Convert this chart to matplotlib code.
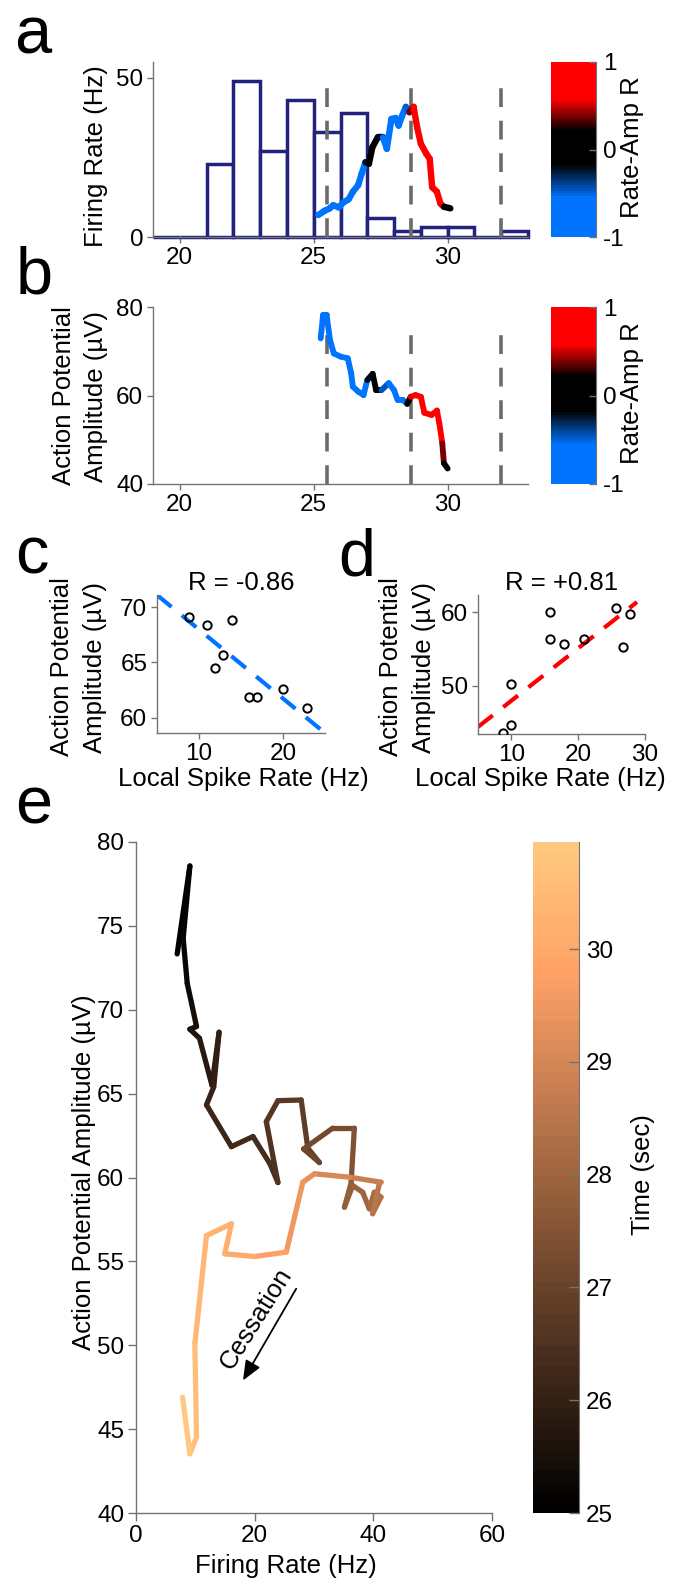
import numpy as np
import matplotlib
matplotlib.use('Agg')
import matplotlib.pyplot as plt
from matplotlib.collections import LineCollection
from matplotlib.colors import LinearSegmentedColormap, Normalize
from matplotlib.cm import ScalarMappable

plt.rcParams['font.family'] = ['Liberation Sans', 'DejaVu Sans']
plt.rcParams['axes.unicode_minus'] = False

# ---------------- data ----------------
# panel a: firing rate histogram (1 s bins) and local rate trace
bin_left = [19, 20, 21, 22, 23, 24, 25, 26, 27, 28, 29, 30, 31, 32]
bin_rate = [0, 0, 23, 49, 27, 43, 33, 39, 6, 2, 3, 3, 0, 2]
event_times = [25.5, 28.63, 32.0]

rate_t = [25.17, 25.40, 25.60, 25.73, 25.93, 26.13, 26.30, 26.46, 26.66, 26.79, 26.93,
          27.06, 27.19, 27.39, 27.59, 27.73, 27.90, 28.06, 28.17, 28.30, 28.44, 28.57,
          28.73, 28.86, 29.00, 29.20, 29.33, 29.42, 29.60, 29.73, 29.86, 30.10]
rate_hz = [6.9, 8.2, 9.0, 10.0, 9.3, 11.0, 11.8, 14.2, 16.3, 19.9, 23.5,
           23.0, 28.2, 31.3, 31.3, 27.7, 37.1, 37.4, 35.0, 38.1, 40.9, 39.2,
           40.9, 34.5, 29.3, 26.2, 24.6, 15.7, 14.2, 10.5, 9.5, 9.0]
rate_r = [-0.9, -0.9, -0.9, -0.9, -0.9, -0.9, -0.9, -0.9, -0.9, -0.9, -0.5,
          0.0, 0.0, 0.0, -0.4, -0.9, -0.9, -0.9, -0.9, -0.9, -0.9, -0.1,
          0.9, 0.9, 0.9, 0.9, 0.9, 0.9, 0.9, 0.9, 0.4, 0.0]

# panel b: action potential amplitude trace
amp_t = [25.26, 25.35, 25.48, 25.61, 25.75, 26.00, 26.27, 26.40, 26.46, 26.66, 26.86,
         27.00, 27.20, 27.33, 27.53, 27.80, 28.00, 28.13, 28.33, 28.49, 28.62,
         28.80, 29.00, 29.13, 29.40, 29.60, 29.69, 29.80, 29.86, 30.00]
amp_uv = [72.9, 78.2, 78.2, 72.5, 69.5, 68.8, 68.4, 65.0, 62.0, 60.9, 60.1,
          63.5, 64.9, 61.2, 61.2, 62.8, 61.2, 59.0, 59.0, 58.1, 59.7,
          60.1, 59.7, 56.1, 55.6, 56.6, 53.7, 49.2, 44.7, 43.5]
amp_r = [-0.9, -0.9, -0.9, -0.9, -0.9, -0.9, -0.9, -0.9, -0.9, -0.9, -0.9,
         -0.4, 0.0, 0.0, 0.0, -0.9, -0.9, -0.9, -0.9, -0.3, 0.2,
         0.9, 0.9, 0.9, 0.9, 0.9, 0.9, 0.5, 0.3, 0.0]

# panel c: negative correlation window
c_rate = [8.85, 10.9, 13.9, 11.9, 12.9, 15.9, 16.9, 19.96, 22.9]
c_amp = [69.15, 68.4, 68.85, 64.45, 65.7, 61.9, 61.9, 62.6, 60.9]
c_fit_x = [5, 25]
c_fit_y = [71.1, 58.6]

# panel d: positive correlation window
d_rate = [15.8, 15.8, 17.8, 20.8, 25.6, 27.7, 26.7, 9.9, 9.9, 8.8]
d_amp = [60.04, 56.35, 55.7, 56.35, 60.5, 59.7, 55.3, 50.2, 44.7, 43.7]
d_fit_x = [5, 28.8]
d_fit_y = [44.46, 61.35]

# panel e: rate vs amplitude trajectory, coloured by time
traj_rate = [6.94, 9.08, 7.95, 8.63, 9.36, 10.2, 9.08, 10.7, 12.8, 14.0, 13.1,
             11.88, 16.08, 19.72, 22.52, 23.92, 21.96, 23.92, 27.84, 28.96, 30.92,
             28.24, 33.15, 36.8, 36.25, 35.13, 36.52, 38.2, 39.33, 40.17, 41.29,
             39.88, 41.0, 41.29, 35.97, 30.08, 28.12, 25.32, 20.0, 14.96, 16.08,
             11.88, 9.92, 10.2, 9.08, 7.85]
traj_amp = [73.33, 78.57, 74.26, 71.58, 70.39, 69.0, 68.84, 68.3, 65.5, 68.66, 65.4,
            64.33, 61.84, 62.44, 60.85, 59.7, 63.33, 64.58, 64.62, 61.75, 60.89,
            61.7, 62.94, 62.94, 59.66, 58.23, 59.52, 59.12, 58.13, 59.12, 58.83,
            57.84, 59.62, 59.72, 60.02, 60.22, 59.72, 55.55, 55.29, 55.45, 57.24,
            56.54, 50.09, 44.52, 43.53, 46.9]
traj_t = [25.0, 25.1, 25.2, 25.3, 25.4, 25.5, 25.6, 25.7, 25.8, 25.9, 26.0,
          26.1, 26.2, 26.3, 26.4, 26.5, 26.6, 26.7, 26.8, 26.9, 27.0,
          27.1, 27.2, 27.4, 27.6, 27.8, 27.9, 28.0, 28.1, 28.2, 28.3,
          28.4, 28.5, 28.6, 28.9, 29.2, 29.4, 29.7, 29.9, 30.1, 30.2,
          30.35, 30.5, 30.7, 30.8, 30.95]

# ---------------- styling ----------------
W, H = 696, 1583
TICK_FS = 17.5
LAB_FS = 18.5
AX_COL = '0.45'
NAVY = '#23237e'
BLUE = '#0073ff'
RED = '#ff0000'

ramp = LinearSegmentedColormap.from_list(
    'ramp', [(0.0, BLUE), (0.22, BLUE), (0.41, 'black'), (0.61, 'black'),
             (0.79, RED), (1.0, RED)], N=64)
r_norm = Normalize(-1, 1)
time_cmap = plt.get_cmap('copper', 64)
time_norm = Normalize(25, 30.95)

fig = plt.figure(figsize=(W / 100, H / 100), dpi=100)


def pix_axes(x0, y0, x1, y1):
    return fig.add_axes([x0 / W, 1 - y1 / H, (x1 - x0) / W, (y1 - y0) / H])


def pix_text(x, y, s, **kw):
    fig.text(x / W, 1 - y / H, s, **kw)


def style(ax):
    for side in ['top', 'right']:
        ax.spines[side].set_visible(False)
    for side in ['left', 'bottom']:
        ax.spines[side].set_color(AX_COL)
        ax.spines[side].set_linewidth(1.0)
    ax.tick_params(direction='out', length=4, width=1, color=AX_COL,
                   labelsize=TICK_FS, pad=3)


def colored_line(ax, x, y, c, cmap, norm, lw, cap='round'):
    pts = np.column_stack([x, y])
    segs = np.stack([pts[:-1], pts[1:]], axis=1)
    cvals = (np.asarray(c[:-1]) + np.asarray(c[1:])) / 2.0
    lc = LineCollection(segs, cmap=cmap, norm=norm, linewidths=lw,
                        capstyle=cap, joinstyle='round', zorder=4)
    lc.set_array(cvals)
    ax.add_collection(lc)


def side_colorbar(cax, cmap, norm, ticks):
    cb = fig.colorbar(ScalarMappable(norm=norm, cmap=cmap), cax=cax, ticks=ticks)
    cb.outline.set_visible(False)
    cax.spines['right'].set_visible(True)
    cax.spines['right'].set_color(AX_COL)
    cax.tick_params(direction='in', length=5, width=1, color=AX_COL,
                    labelsize=TICK_FS, pad=5)
    return cb


# ---------------- panel a ----------------
ax_a = pix_axes(153, 62, 528, 237)
style(ax_a)
ax_a.bar(bin_left, bin_rate, width=1, align='edge', facecolor='white',
         edgecolor=NAVY, linewidth=2.5, zorder=2, clip_on=False)
ax_a.vlines(event_times, 0, 50.5, colors='0.42', linewidth=2.6,
            linestyles=(0, (5.2, 3.8)), zorder=3)
colored_line(ax_a, rate_t, rate_hz, rate_r, ramp, r_norm, 4.6)
ax_a.set_xlim(19, 33)
ax_a.set_ylim(0, 55)
ax_a.set_xticks([20, 25, 30])
ax_a.set_yticks([0, 50])
cax_a = pix_axes(551, 62, 596, 237)
side_colorbar(cax_a, ramp, r_norm, [-1, 0, 1])

# ---------------- panel b ----------------
ax_b = pix_axes(153, 307, 528, 484)
style(ax_b)
ax_b.vlines(event_times, 40, 76.5, colors='0.42', linewidth=2.6,
            linestyles=(0, (5.2, 3.8)), zorder=3)
colored_line(ax_b, amp_t, amp_uv, amp_r, ramp, r_norm, 4.2)
ax_b.set_xlim(19, 33)
ax_b.set_ylim(40, 80)
ax_b.set_xticks([20, 25, 30])
ax_b.set_yticks([40, 60, 80])
cax_b = pix_axes(551, 307, 596, 484)
side_colorbar(cax_b, ramp, r_norm, [-1, 0, 1])

# ---------------- panel c ----------------
ax_c = pix_axes(157, 595, 325, 733)
style(ax_c)
ax_c.plot(c_fit_x, c_fit_y, color=BLUE, lw=3.0, dashes=(4.5, 3.2), zorder=2)
ax_c.plot(c_rate, c_amp, 'o', mfc='none', mec='black', ms=6, mew=1.4, zorder=3)
ax_c.set_xlim(5, 25)
ax_c.set_ylim(58.6, 71.1)
ax_c.set_xticks([10, 20])
ax_c.set_yticks([60, 65, 70])
ax_c.set_title('R = -0.86', fontsize=LAB_FS, pad=0)

# ---------------- panel d ----------------
ax_d = pix_axes(478, 595, 645, 734)
style(ax_d)
ax_d.plot(d_fit_x, d_fit_y, color=RED, lw=3.0, dashes=(4.5, 3.2), zorder=2)
ax_d.plot(d_rate, d_amp, 'o', mfc='none', mec='black', ms=6, mew=1.4, zorder=3)
ax_d.set_xlim(5, 30)
ax_d.set_ylim(43.5, 62.3)
ax_d.set_xticks([10, 20, 30])
ax_d.set_yticks([50, 60])
ax_d.set_title('R = +0.81', fontsize=LAB_FS, pad=0)

# ---------------- panel e ----------------
ax_e = pix_axes(136, 842, 492, 1513)
style(ax_e)
ax_e.tick_params(length=5.5)
colored_line(ax_e, traj_rate, traj_amp, traj_t, time_cmap, time_norm, 3.8)
ax_e.set_xlim(0, 60)
ax_e.set_ylim(40, 80)
ax_e.set_xticks([0, 20, 40, 60])
ax_e.set_yticks([40, 45, 50, 55, 60, 65, 70, 75, 80])
ax_e.annotate('', xy=(18.03, 47.9), xytext=(27.0, 53.37),
              arrowprops=dict(arrowstyle='-|>,head_length=0.6,head_width=0.25',
                              color='black', lw=1.3, mutation_scale=20,
                              shrinkA=0, shrinkB=0))
ax_e.text(20.28, 51.58, 'Cessation', rotation=58, ha='center', va='center',
          fontsize=LAB_FS, rotation_mode='anchor')
cax_e = pix_axes(533, 842, 579, 1513)
side_colorbar(cax_e, time_cmap, time_norm, [25, 26, 27, 28, 29, 30])
cax_e.tick_params(length=7)

# ---------------- labels ----------------
pix_text(96, 156, 'Firing Rate (Hz)', rotation=90, ha='center', va='center', fontsize=LAB_FS)
pix_text(64, 396, 'Action Potential', rotation=90, ha='center', va='center', fontsize=LAB_FS)
pix_text(96, 396, 'Amplitude (\u00b5V)', rotation=90, ha='center', va='center', fontsize=LAB_FS)
pix_text(62, 667, 'Action Potential', rotation=90, ha='center', va='center', fontsize=LAB_FS)
pix_text(95, 667, 'Amplitude (\u00b5V)', rotation=90, ha='center', va='center', fontsize=LAB_FS)
pix_text(391, 667, 'Action Potential', rotation=90, ha='center', va='center', fontsize=LAB_FS)
pix_text(424, 667, 'Amplitude (\u00b5V)', rotation=90, ha='center', va='center', fontsize=LAB_FS)
pix_text(243, 779, 'Local Spike Rate (Hz)', ha='center', va='center', fontsize=LAB_FS)
pix_text(540, 779, 'Local Spike Rate (Hz)', ha='center', va='center', fontsize=LAB_FS)
pix_text(84, 1172, 'Action Potential Amplitude (\u00b5V)', rotation=90, ha='center',
         va='center', fontsize=LAB_FS)
pix_text(286, 1566, 'Firing Rate (Hz)', ha='center', va='center', fontsize=LAB_FS)
pix_text(632, 147, 'Rate-Amp R', rotation=90, ha='center', va='center', fontsize=LAB_FS)
pix_text(632, 393, 'Rate-Amp R', rotation=90, ha='center', va='center', fontsize=LAB_FS)
pix_text(643, 1175, 'Time (sec)', rotation=90, ha='center', va='center', fontsize=LAB_FS)

# panel letters
for x, y, s in [(14, 53, 'a'), (16, 293, 'b'), (15, 573, 'c'), (338, 575, 'd'), (15, 823, 'e')]:
    pix_text(x, y, s, ha='left', va='baseline', fontsize=48)

fig.savefig('out.png', dpi=100)
